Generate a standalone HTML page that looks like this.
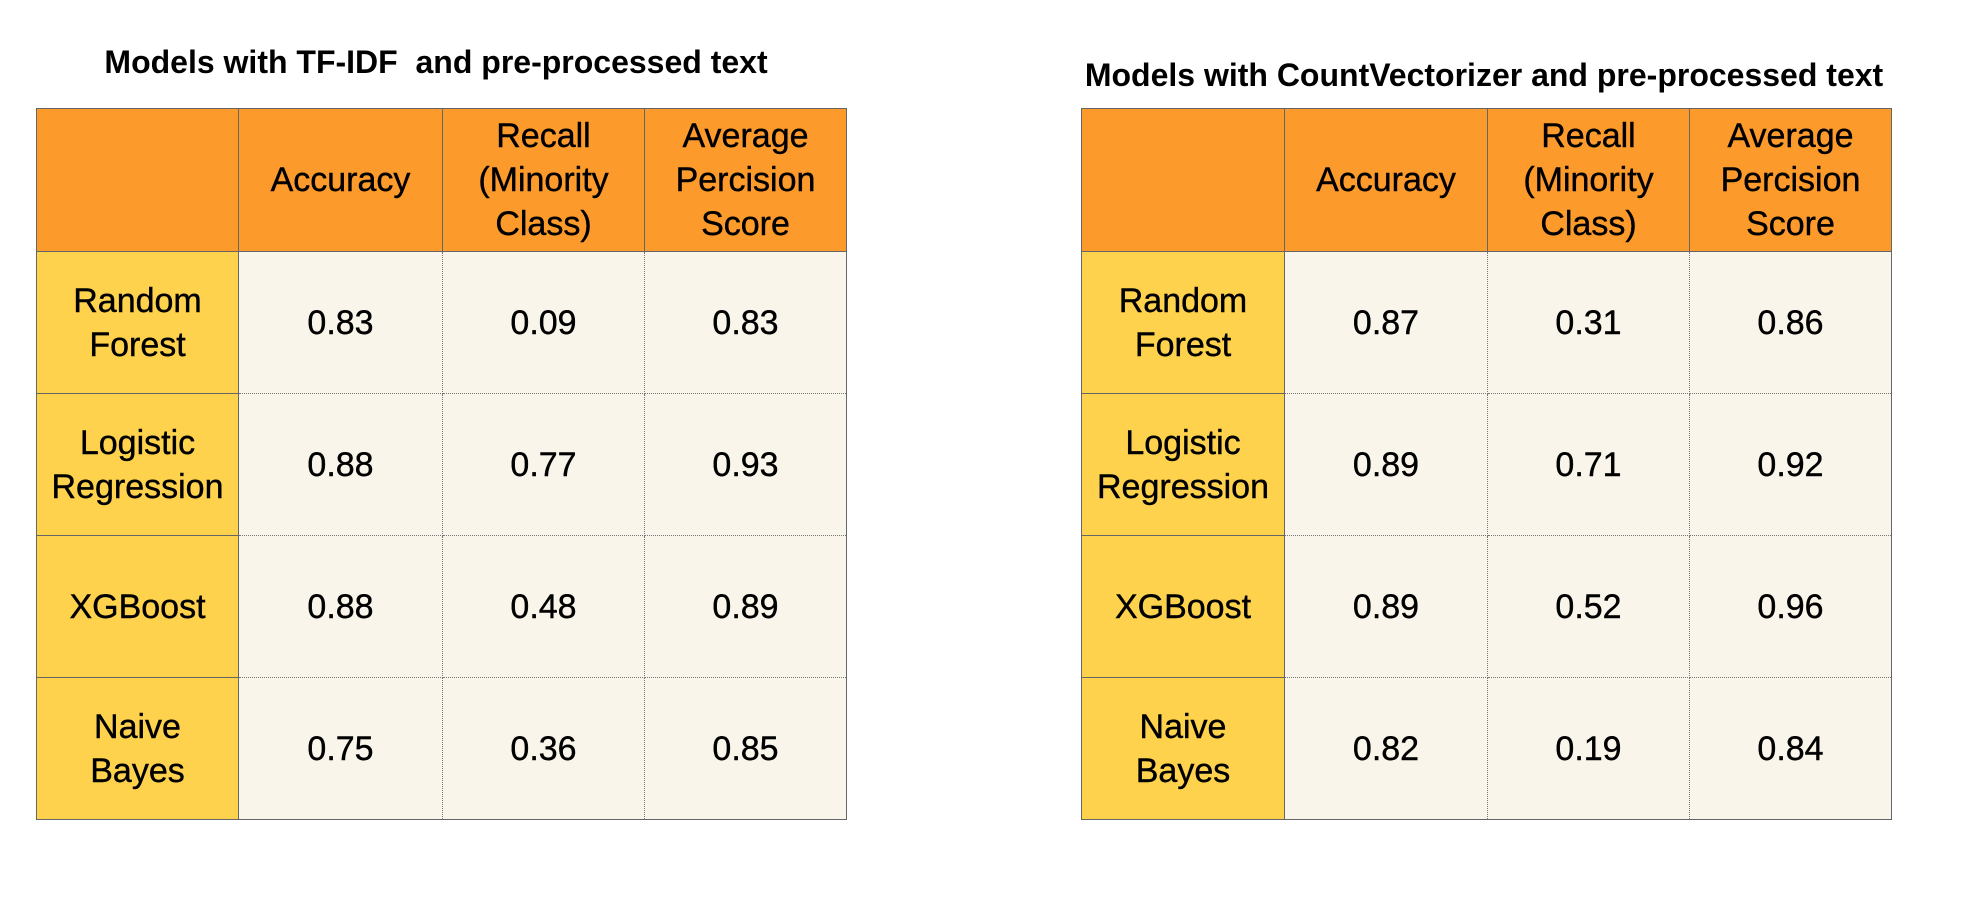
<!DOCTYPE html>
<html><head><meta charset="utf-8"><style>
body{margin:0;width:1984px;height:906px;background:#fff;position:relative;overflow:hidden;font-family:"Liberation Sans",sans-serif;color:#000}
.t{position:absolute;font-weight:bold;font-size:32px;white-space:nowrap;transform:translateX(-50%)}
table{position:absolute;border-collapse:collapse;table-layout:fixed;top:108px}
td{border:1px dotted #777;text-align:center;vertical-align:middle;font-size:34px;line-height:44px;padding:0;background:#F9F5EA;-webkit-text-stroke:0.4px #000}
tr:first-child td{background:#FD9A2C;border:1.5px solid #666;height:142px}
td.r{background:#FED24C;border:1.5px solid #666}
tr td{height:141px}
table{border:1.5px solid #666}
</style></head><body>
<div class="t" style="left:436px;top:44px">Models with TF-IDF&nbsp; and pre-processed text</div>
<div class="t" style="left:1484px;top:57px">Models with CountVectorizer and pre-processed text</div>
<table style="left:36px;width:810px">
<colgroup><col style="width:202px"><col style="width:204px"><col style="width:202px"><col style="width:202px"></colgroup>
<tr><td></td><td>Accuracy</td><td>Recall<br>(Minority<br>Class)</td><td>Average<br>Percision<br>Score</td></tr>
<tr><td class="r">Random<br>Forest</td><td>0.83</td><td>0.09</td><td>0.83</td></tr>
<tr><td class="r">Logistic<br>Regression</td><td>0.88</td><td>0.77</td><td>0.93</td></tr>
<tr><td class="r">XGBoost</td><td>0.88</td><td>0.48</td><td>0.89</td></tr>
<tr><td class="r">Naive<br>Bayes</td><td>0.75</td><td>0.36</td><td>0.85</td></tr>
</table>
<table style="left:1081px;width:810px">
<colgroup><col style="width:203px"><col style="width:203px"><col style="width:202px"><col style="width:202px"></colgroup>
<tr><td></td><td>Accuracy</td><td>Recall<br>(Minority<br>Class)</td><td>Average<br>Percision<br>Score</td></tr>
<tr><td class="r">Random<br>Forest</td><td>0.87</td><td>0.31</td><td>0.86</td></tr>
<tr><td class="r">Logistic<br>Regression</td><td>0.89</td><td>0.71</td><td>0.92</td></tr>
<tr><td class="r">XGBoost</td><td>0.89</td><td>0.52</td><td>0.96</td></tr>
<tr><td class="r">Naive<br>Bayes</td><td>0.82</td><td>0.19</td><td>0.84</td></tr>
</table>
</body></html>
